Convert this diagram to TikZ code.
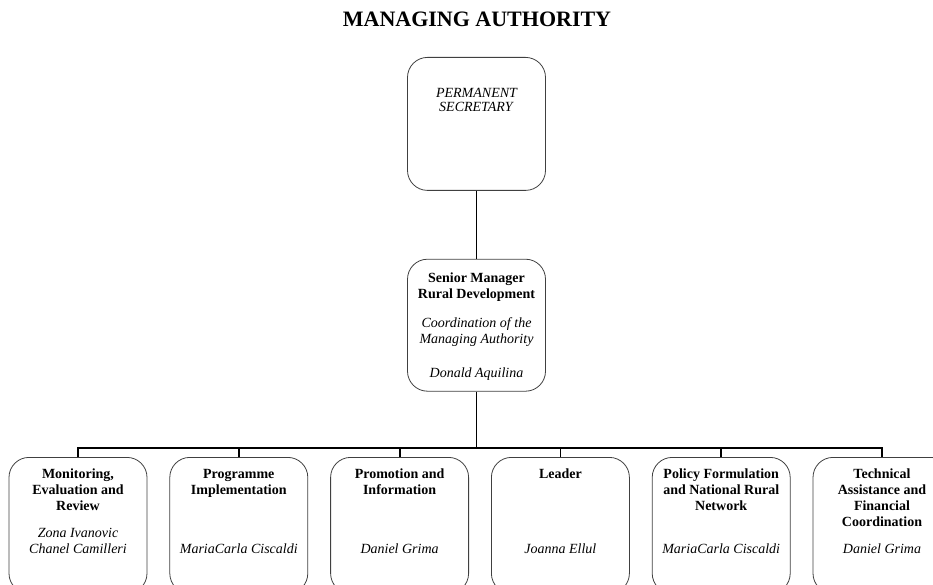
\documentclass[tikz,border=0pt]{standalone}
\usepackage{fontspec}
\setmainfont{Liberation Serif}
\usetikzlibrary{positioning,calc}
\newcommand{\inbox}[3]{\parbox[t][#1][t]{138pt}{\centering\vspace*{#2}\strut#3}}
\newcommand{\teambox}[2]{\inbox{136pt}{10pt}{\textbf{#1}\par\vfill\textit{#2}\strut\par\vspace*{35pt}}}
\tikzset{
  unit/.style={draw=black!75, line width=0.8pt, rounded corners=20pt, inner sep=0pt,
    anchor=north, font=\fontsize{14}{16}\selectfont},
  link/.style={line width=1.8pt}
}

\begin{document}
\begin{tikzpicture}[x=1pt,y=1pt]
    \useasboundingbox (0,0) rectangle (933,-585);
    \node[anchor=base, font=\bfseries\fontsize{22}{26}\selectfont] (title) at (477,-27) {MANAGING AUTHORITY};
    % top of the chart
    \node[unit] (ps) at (476.5,-57) {\inbox{133pt}{29pt}{\textit{PERMANENT\\[-2pt]SECRETARY}}};
    \node[unit] (sm) [below=68pt of ps] {\inbox{132pt}{12pt}{\textbf{Senior Manager\\Rural Development}\\[13pt]\textit{Coordination of the\\Managing Authority}\\[18pt]\textit{Donald Aquilina}}};
    % the six units
    \node[unit] (mer) at (78,-457) {\teambox{Monitoring,\\Evaluation and\\Review}{Zona Ivanovic\\Chanel Camilleri}};
    \node[unit] (pi) [right=22pt of mer] {\teambox{Programme\\Implementation}{MariaCarla Ciscaldi}};
    \node[unit] (pin) [right=22pt of pi] {\teambox{Promotion and\\Information}{Daniel Grima}};
    \node[unit] (ldr) [right=22pt of pin] {\teambox{Leader}{Joanna Ellul}};
    \node[unit] (pfn) [right=22pt of ldr] {\teambox{Policy Formulation\\and National Rural\\Network}{MariaCarla Ciscaldi}};
    \node[unit] (tafc) [right=22pt of pfn] {\teambox{Technical\\Assistance and\\Financial\\Coordination}{Daniel Grima}};
    \coordinate (hub) at (476.5,-448);
    \draw[link] (ps) -- (sm);
    \draw[link] (sm) -- (hub);
    \draw[link] (mer.north) -- (mer.north |- hub) -- (tafc.north |- hub) -- (tafc.north);
    \foreach \u in {pi,pin,ldr,pfn}
      \draw[link] (\u.north) -- (\u.north |- hub);
\end{tikzpicture}
\end{document}
